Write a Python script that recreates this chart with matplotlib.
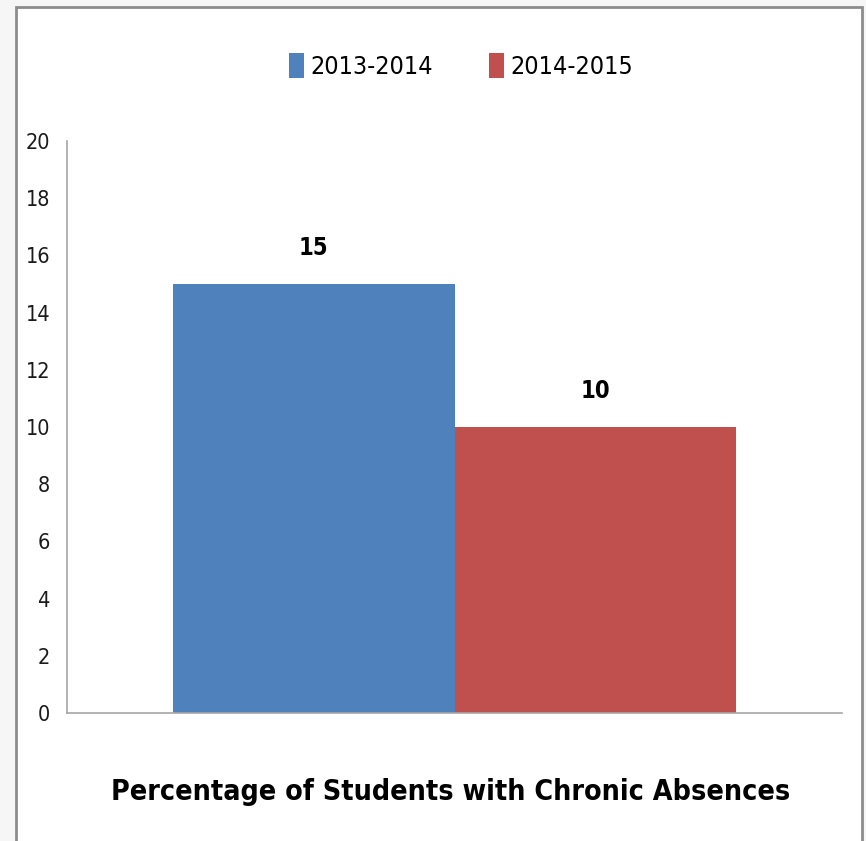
import matplotlib.pyplot as plt
from matplotlib.patches import Rectangle

# data
seasons = ['2013-2014', '2014-2015']
values = [15, 10]
colors = ['#4F81BD', '#C0504D']
yticks = [0, 2, 4, 6, 8, 10, 12, 14, 16, 18, 20]
title = 'Percentage of Students with Chronic Absences'

FONT = ['DejaVu Sans']
STRETCH = 'condensed'

fig = plt.figure(figsize=(8.66, 8.41), dpi=100)
fig.patch.set_facecolor('#f6f6f6')

# white slide panel with grey frame
W, H = 866, 841
fig.patches.append(Rectangle((16 / W, -0.05), (862 - 16) / W, 1 - 7 / H + 0.05,
                             transform=fig.transFigure, facecolor='white',
                             edgecolor='#8c8c8c', linewidth=2, zorder=-5))

ax = fig.add_axes([67 / W, 1 - 713 / H, (842 - 67) / W, (713 - 141) / H])
ax.set_facecolor('none')
ax.set_zorder(2)

width = 0.3633
xpos = [-width / 2, width / 2]
bars = ax.bar(xpos, values, width=width, color=colors, label=seasons, zorder=2)

for b, v in zip(bars, values):
    ax.annotate(str(v), (b.get_x() + b.get_width() / 2, v), xytext=(0, 17),
                textcoords='offset points', ha='center', va='bottom',
                fontsize=17, fontweight='bold', family=FONT, fontstretch=STRETCH)

ax.set_xlim(-0.5, 0.5)
ax.set_ylim(0, 20)
ax.set_yticks(yticks)
ax.set_yticklabels([str(t) for t in yticks], family=FONT, fontstretch=STRETCH,
                   fontsize=15.5, color='#1a1a1a')
ax.set_xticks([])
ax.tick_params(axis='y', length=0, pad=12)
for s in ['top', 'right']:
    ax.spines[s].set_visible(False)
for s in ['left', 'bottom']:
    ax.spines[s].set_color('#a6a6a6')
    ax.spines[s].set_linewidth(1.2)

leg = fig.legend(handles=list(bars), labels=seasons, loc='center',
                 bbox_to_anchor=(461 / W, 1 - 66 / H), ncol=2, frameon=False,
                 prop={'family': FONT, 'size': 18, 'stretch': STRETCH}, handlelength=0.6,
                 handleheight=1.15, handletextpad=0.25, columnspacing=2.25)

fig.text(451 / W, 1 - 792 / H, title, ha='center', va='center',
         fontsize=20.5, fontweight='bold', family=FONT, fontstretch=STRETCH, color='black')

fig.savefig('out.png', dpi=100, facecolor=fig.get_facecolor())
